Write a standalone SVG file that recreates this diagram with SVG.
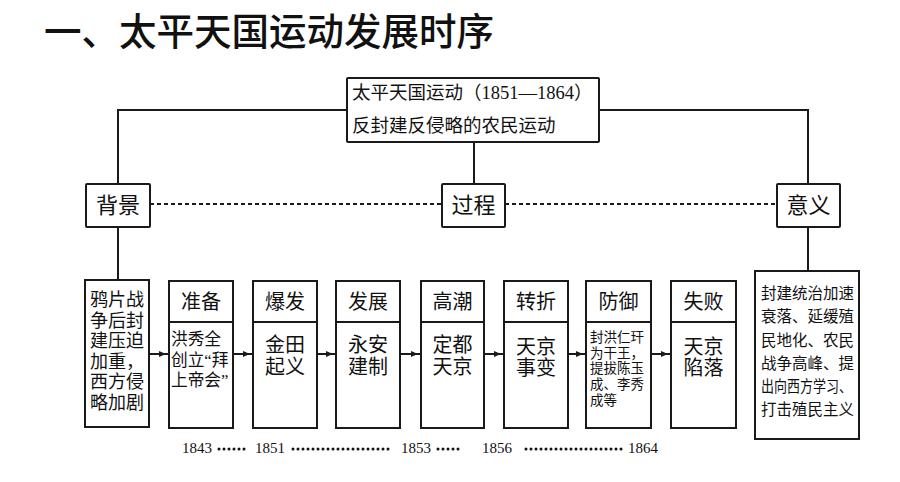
<svg xmlns="http://www.w3.org/2000/svg" width="900" height="482" viewBox="0 0 900 482">
<style>
.box{fill:#fff;stroke:#1a1a1a;stroke-width:2}
.ln{stroke:#1a1a1a;stroke-width:2;fill:none}
.t{font-family:"Liberation Serif","Noto Sans CJK SC",serif;fill:#111;dominant-baseline:central}
.c{text-anchor:middle}
.h{font-size:20px}
.b{font-size:20px}
</style>
<defs>
<marker id="ar" markerUnits="userSpaceOnUse" markerWidth="8" markerHeight="6" viewBox="0 0 8 6" refX="10" refY="3" orient="auto">
<path d="M0,0 L7,3 L0,6 z" fill="#1a1a1a"/>
</marker>
</defs>
<rect width="900" height="482" fill="#fff"/>
<text id="title" x="44" y="28" style="font-family:'Noto Sans CJK SC',sans-serif;font-size:37.5px;font-weight:500;fill:#111;dominant-baseline:central">一、太平天国运动发展时序</text>

<g id="connectors">
<path class="ln" d="M347 110 H118 V184"/>
<path class="ln" d="M599 110 H808 V184"/>
<path class="ln" d="M474 142 V184"/>
<path class="ln" d="M118 227 V280"/>
<path class="ln" d="M808 227 V271"/>
<line class="ln" x1="150" y1="204" x2="442" y2="204" stroke-dasharray="4 3"/>
<line class="ln" x1="505" y1="204" x2="777" y2="204" stroke-dasharray="4 3"/>
<line class="ln" x1="149" y1="354" x2="169" y2="354" marker-end="url(#ar)"/>
<line class="ln" x1="233" y1="354" x2="253" y2="354" marker-end="url(#ar)"/>
<line class="ln" x1="317" y1="354" x2="336" y2="354" marker-end="url(#ar)"/>
<line class="ln" x1="400" y1="354" x2="421" y2="354" marker-end="url(#ar)"/>
<line class="ln" x1="484" y1="354" x2="504" y2="354" marker-end="url(#ar)"/>
<line class="ln" x1="568" y1="354" x2="586" y2="354" marker-end="url(#ar)"/>
<line class="ln" x1="651" y1="354" x2="671" y2="354" marker-end="url(#ar)"/>
</g>

<g id="main">
<rect class="box" x="347" y="78" width="252" height="64" rx="1"/>
<text class="t" x="352" y="93" style="font-size:18.5px">太平天国运动（1851—1864）</text>
<text class="t" x="352" y="126" style="font-size:18.5px">反封建反侵略的农民运动</text>
</g>

<g id="beijing">
<rect class="box" x="86" y="184" width="64" height="43" rx="1"/>
<text class="t c" x="118" y="205" style="font-size:22px">背景</text>
</g>
<g id="guocheng">
<rect class="box" x="442" y="184" width="63" height="43" rx="1"/>
<text class="t c" x="473.5" y="205" style="font-size:22px">过程</text>
</g>
<g id="yiyi">
<rect class="box" x="777" y="184" width="63" height="43" rx="1"/>
<text class="t c" x="808.5" y="205" style="font-size:22px">意义</text>
</g>

<g id="bg-content">
<rect class="box" x="85" y="280" width="64" height="147"/>
<text class="t c" x="117" style="font-size:18px"><tspan x="117" y="300">鸦片战</tspan><tspan x="117" y="320.6">争后封</tspan><tspan x="117" y="341.2">建压迫</tspan><tspan x="117" y="361.8">加重，</tspan><tspan x="117" y="382.4">西方侵</tspan><tspan x="117" y="403">略加剧</tspan></text>
</g>

<g id="zhunbei">
<rect class="box" x="169" y="281" width="64" height="147"/>
<line class="ln" x1="169" y1="322" x2="233" y2="322"/>
<text class="t c h" x="201" y="302">准备</text>
<text class="t" style="font-size:16.7px"><tspan x="171" y="339">洪秀全</tspan><tspan x="171" y="359.5">创立“拜</tspan><tspan x="171" y="380">上帝会”</tspan></text>
</g>

<g id="baofa">
<rect class="box" x="253" y="281" width="64" height="147"/>
<line class="ln" x1="253" y1="322" x2="317" y2="322"/>
<text class="t c h" x="285" y="302">爆发</text>
<text class="t c b"><tspan x="285" y="345">金田</tspan><tspan x="285" y="367">起义</tspan></text>
</g>

<g id="fazhan">
<rect class="box" x="336" y="281" width="64" height="147"/>
<line class="ln" x1="336" y1="322" x2="400" y2="322"/>
<text class="t c h" x="368" y="302">发展</text>
<text class="t c b"><tspan x="368" y="345">永安</tspan><tspan x="368" y="367">建制</tspan></text>
</g>

<g id="gaochao">
<rect class="box" x="421" y="281" width="63" height="147"/>
<line class="ln" x1="421" y1="322" x2="484" y2="322"/>
<text class="t c h" x="452.5" y="302">高潮</text>
<text class="t c b"><tspan x="452.5" y="345">定都</tspan><tspan x="452.5" y="367">天京</tspan></text>
</g>

<g id="zhuanzhe">
<rect class="box" x="504" y="281" width="64" height="147"/>
<line class="ln" x1="504" y1="322" x2="568" y2="322"/>
<text class="t c h" x="536" y="302">转折</text>
<text class="t c b"><tspan x="536" y="347">天京</tspan><tspan x="536" y="368">事变</tspan></text>
</g>

<g id="fangyu">
<rect class="box" x="586" y="281" width="65" height="147"/>
<line class="ln" x1="586" y1="322" x2="651" y2="322"/>
<text class="t c h" x="618.5" y="302">防御</text>
<text class="t" style="font-size:13.5px"><tspan x="590" y="337">封洪仁玕</tspan><tspan x="590" y="352.7">为干王，</tspan><tspan x="590" y="368.4">提拔陈玉</tspan><tspan x="590" y="384.1">成、李秀</tspan><tspan x="590" y="399.8">成等</tspan></text>
</g>

<g id="shibai">
<rect class="box" x="671" y="281" width="65" height="147"/>
<line class="ln" x1="671" y1="322" x2="736" y2="322"/>
<text class="t c h" x="703.5" y="302">失败</text>
<text class="t c b"><tspan x="703.5" y="347">天京</tspan><tspan x="703.5" y="368">陷落</tspan></text>
</g>

<g id="yiyi-content">
<rect class="box" x="755" y="271" width="104" height="168"/>
<text class="t" style="font-size:15.5px"><tspan x="761" y="293">封建统治加速</tspan><tspan x="761" y="316">衰落、延缓殖</tspan><tspan x="761" y="339.5">民地化、农民</tspan><tspan x="761" y="363">战争高峰、提</tspan></text>
<text class="t" x="761" y="386.5" style="font-size:15.5px" textLength="91" lengthAdjust="spacingAndGlyphs">出向西方学习、</text>
<text class="t" x="761" y="409.5" style="font-size:15.5px">打击殖民主义</text>
</g>

<g id="timeline">
<text class="t" x="182" y="448" style="font-size:15px">1843</text>
<text class="t" x="255" y="448" style="font-size:15px">1851</text>
<text class="t" x="401" y="448" style="font-size:15px">1853</text>
<text class="t" x="482" y="448" style="font-size:15px">1856</text>
<text class="t" x="628" y="448" style="font-size:15px">1864</text>
<g stroke="#111" stroke-width="3" stroke-linecap="round" stroke-dasharray="0 5">
<line x1="219" y1="449" x2="247" y2="449"/>
<line x1="293" y1="449" x2="391" y2="449"/>
<line x1="438" y1="449" x2="463" y2="449"/>
<line x1="526" y1="449" x2="623" y2="449"/>
</g>
</g>
</svg>
